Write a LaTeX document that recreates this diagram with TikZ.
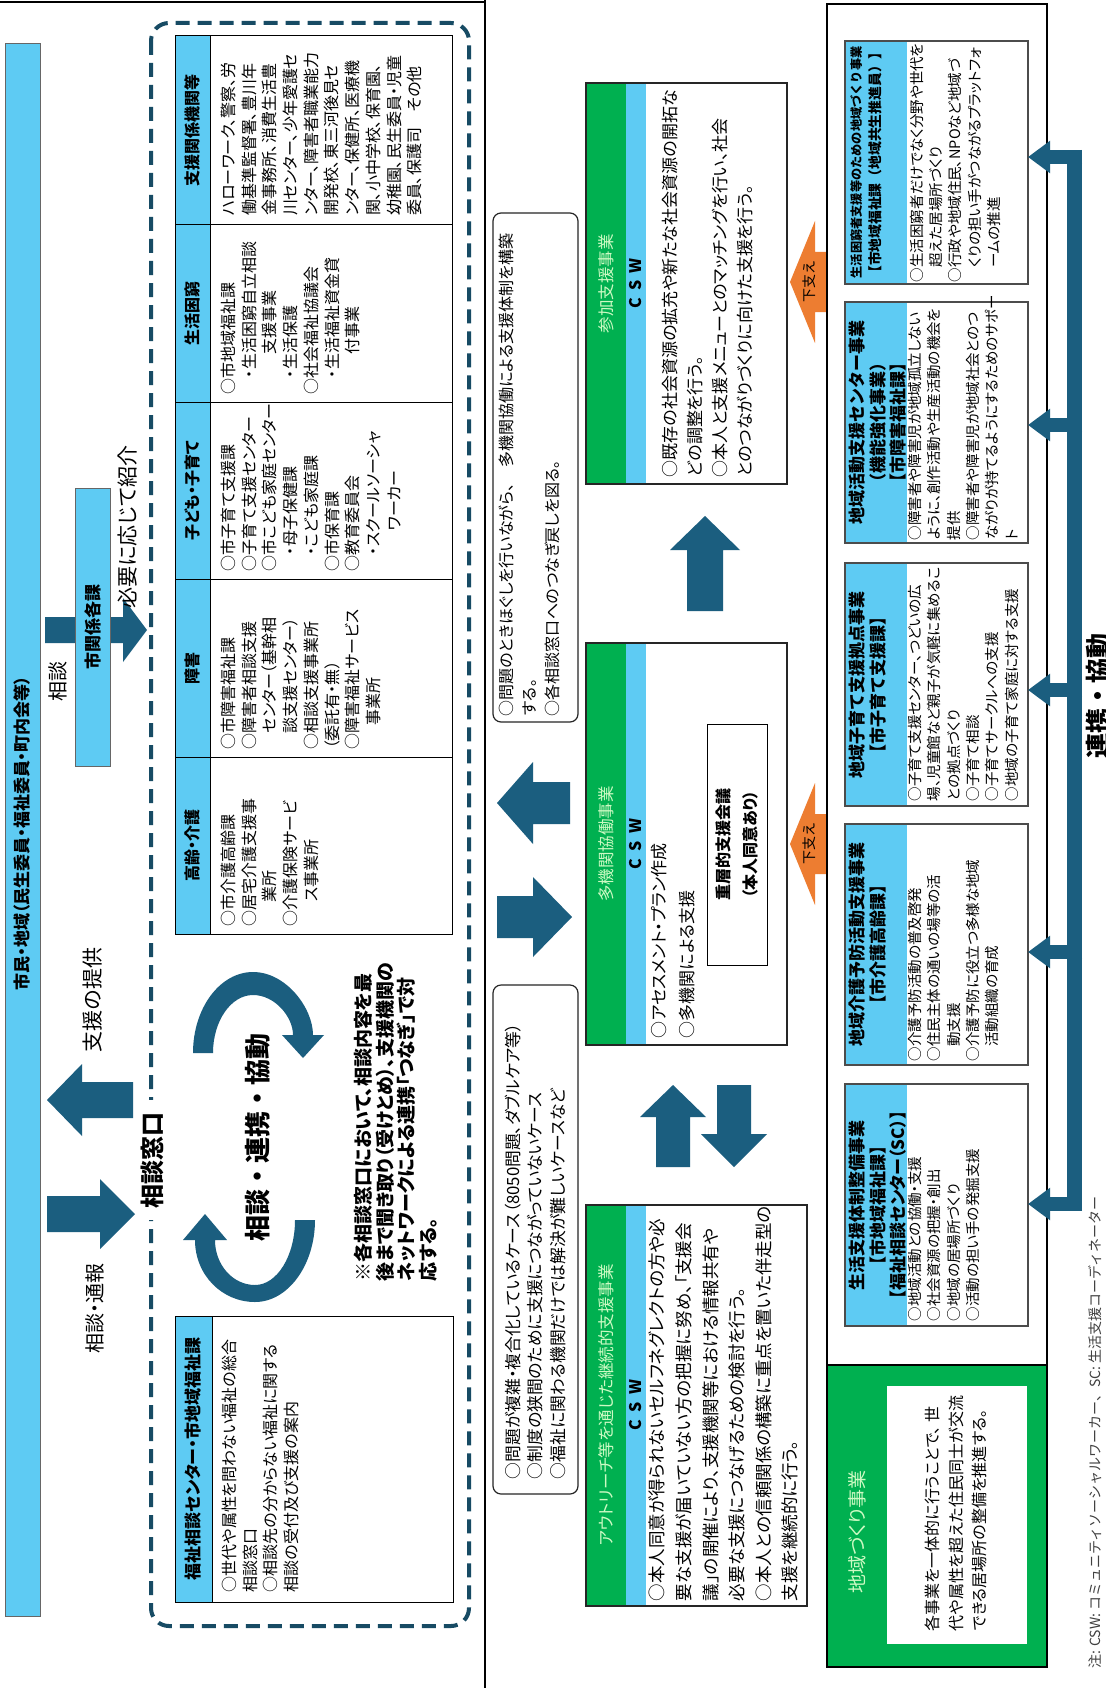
\documentclass[tikz,border=0pt]{standalone}
\usepackage{fontspec}
\setmainfont{Noto Sans CJK JP}[RawFeature=+palt]
\newfontfamily\fw{Noto Sans CJK JP}
\usetikzlibrary{arrows.meta}
\definecolor{lb}{RGB}{94,203,243}
\definecolor{gr}{RGB}{0,176,80}
\definecolor{tl}{RGB}{27,94,127}
\definecolor{dk}{RGB}{23,75,100}
\definecolor{og}{RGB}{237,125,49}
\definecolor{lg}{RGB}{205,250,195}
\newcommand\fsz[2]{\fontsize{#1}{#2}\selectfont}
\newcommand\boxat[6][]{\pgfmathsetmacro\bxw{#5-#3}\pgfmathsetmacro\bxh{#6-#4}%
  \node[inner sep=0pt, outer sep=0pt, anchor=north west, minimum width=\bxw pt, minimum height=\bxh pt, #1] (#2) at (#3,#4) {};}
\begin{document}
\begin{tikzpicture}[x=1pt,y=-1pt,
  vt/.style={rotate=90, inner sep=0pt, outer sep=0pt, align=left, anchor=north west},
  vc/.style={rotate=90, inner sep=0pt, align=center},
  gtitle/.style={vc, font=\fsz{16.5}{20}, text=lg},
  csw/.style={vc, font=\bfseries\fsz{16}{20}},
  rhead/.style={rotate=90, inner sep=0pt, align=center, anchor=north, font=\fw\bfseries\fsz{17}{20.3}},
  rtext/.style={vt, font=\fsz{14.5}{19.4}},
  ttext/.style={vt, font=\fsz{16}{20.7}},
  thead/.style={vc, font=\bfseries\fsz{16}{20}},
  mbox/.style={draw=black!85, line width=1.2pt},
  rbox/.style={draw=black!70, line width=2pt},
  conn/.style={tl, line width=14pt, -{Triangle[length=22pt,width=31pt]}}]
\fill[white] (0,0) rectangle (1105,1688);
\useasboundingbox (0,0) rectangle (1105,1688);

% ---------- left section ----------
\draw[line width=1.8pt] (0,2) -- (485,2);
\draw[line width=1.8pt] (485,0) -- (485,1688);

\boxat[draw=black!60, fill=lb, line width=0.8pt]{bar}{5}{43}{40}{1616}
\node[vc, font=\bfseries\fsz{17}{20}] at (22.5,833) {市民・地域（民生委員・福祉委員・町内会等）};

% arrow to city sections
\fill[tl] (147,630) -- (123,598) -- (123,617) -- (45,617) -- (45,643) -- (123,643) -- (123,662) -- cycle;
\boxat[draw=black!60, fill=lb, line width=0.8pt]{kakuka}{75}{488}{110}{766}
\node[vc, font=\bfseries\fsz{17}{20}] at (kakuka.center) {市関係各課};
\node[vc, font=\fsz{20}{22}] at (58,681) {相談};
\node[vc, font=\fsz{21}{24}] at (128,527) {必要に応じて紹介};

% support / consultation arrows
\fill[tl] (47,1100) -- (82,1064) -- (82,1082) -- (133,1082) -- (133,1118) -- (82,1118) -- (82,1136) -- cycle;
\node[vc, font=\fsz{21}{24}] at (93,1000) {支援の提供};
\fill[tl] (135,1214) -- (100,1179) -- (100,1196) -- (47,1196) -- (47,1232) -- (100,1232) -- (100,1249) -- cycle;
\node[vc, font=\fsz{20}{22}] at (95,1308) {相談・通報};

% dashed frame
\draw[dk, line width=4pt, dash pattern=on 14pt off 8pt, rounded corners=18pt] (151,23) rectangle (469,1626);
\node[vc, fill=white, inner xsep=12pt, inner ysep=1pt, font=\fw\bfseries\fsz{24}{26}] (madoguchi) at (152,1160) {相談窓口};

% table
\fill[lb] (175,36) rectangle (210,934);
\boxat[draw, line width=1pt]{tbl}{175}{36}{452}{934}
\foreach \yy in {225,402,579,757} \draw[line width=1pt] (175,\yy) -- (452,\yy);
\draw[line width=1pt] (210,36) -- (210,934);
\node[thead] at (192.5,130.5) {支援関係機関等};
\node[thead] at (192.5,313.5) {生活困窮};
\node[thead] at (192.5,490.5) {子ども・子育て};
\node[thead] at (192.5,668) {障害};
\node[thead] at (192.5,845.5) {高齢・介護};

\node[ttext] at (221,216) {ハローワーク、警察、労\\働基準監督署、豊川年\\金事務所、消費生活豊\\川センター、少年愛護セ\\ンター、障害者職業能力\\開発校、東三河後見セ\\ンター、保健所、医療機\\関、小中学校、保育園、\\幼稚園、民生委員・児童\\委員、保護司　その他};
\node[ttext] at (221,394) {○市地域福祉課\\\hspace*{1em}・生活困窮自立相談\\\hspace*{2.5em}支援事業\\\hspace*{1em}・生活保護\\○社会福祉協議会\\\hspace*{1em}・生活福祉資金貸\\\hspace*{2.5em}付事業};
\node[ttext] at (221,571) {○市子育て支援課\\○子育て支援センター\\○市こども家庭センター\\\hspace*{1em}・母子保健課\\\hspace*{1em}・こども家庭課\\○市保育課\\○教育委員会\\\hspace*{1em}・スクールソーシャ\\\hspace*{2.5em}ワーカー};
\node[ttext] at (221,749) {○市障害福祉課\\○障害者相談支援\\\hspace*{1em}センター（基幹相\\\hspace*{1em}談支援センター）\\○相談支援事業所\\（委託有・無）\\○障害福祉サービス\\\hspace*{1.5em}事業所};
\node[ttext] at (221,926) {○市介護高齢課\\○居宅介護支援事\\\hspace*{1.5em}業所\\○介護保険サービ\\\hspace*{1.5em}ス事業所};

% circular arrows
\fill[tl] (193,1053) .. controls (193,1008) and (220,972) .. (253,972)
  .. controls (286,972) and (313,1008) .. (313,1035)
  -- (324,1035) -- (303,1058) -- (282,1035) -- (293,1035)
  .. controls (293,1017) and (275,995) .. (253,995)
  .. controls (231,995) and (213,1021) .. (213,1053) -- cycle;
\fill[tl] (315,1220) .. controls (315,1265) and (288,1302) .. (255,1302)
  .. controls (222,1302) and (195,1275) .. (195,1240)
  -- (183,1240) -- (205,1214) -- (227,1240) -- (215,1240)
  .. controls (215,1265) and (233,1285) .. (255,1285)
  .. controls (277,1285) and (295,1256) .. (295,1220) -- cycle;
\node[vc, font=\fw\bfseries\fsz{26}{28}] at (258,1137) {相談・連携・協動};

\node[vt, font=\bfseries\fsz{19}{21.7}] at (354,1281) {※各相談窓口において、相談内容を最\\後まで聞き取り（受けとめ）、支援機関の\\ネットワークによる連携「つなぎ」で対\\応する。};

% welfare consultation center box
\fill[lb] (175,1316) rectangle (212,1602);
\boxat[draw, line width=1pt]{fukushi}{175}{1316}{453}{1602}
\draw[line width=1pt] (212,1316) -- (212,1602);
\node[vc, font=\bfseries\fsz{17}{20}] at (193.5,1459) {福祉相談センター・市地域福祉課};
\node[ttext] at (222,1592) {○世代や属性を問わない福祉の総合\\相談窓口\\○相談先の分からない福祉に関する\\相談の受付及び支援の案内};

% ---------- middle section ----------
\boxat[mbox, rounded corners=8pt]{m1}{493}{213}{578}{722}
\node[vt, font=\fsz{16}{23}] at (499,716) {○問題のときほぐしを行いながら、　多機関協働による支援体制を構築\\する。\\○各相談窓口へのつなぎ戻しを図る。};
\boxat[mbox, rounded corners=8pt]{m2}{493}{985}{578}{1494}
\node[vt, font=\fsz{16.8}{22.5}] at (505,1479) {○問題が複雑・複合化しているケース（8050問題、ダブルケア等）\\○制度の狭間のために支援につながっていないケース\\○福祉に関わる機関だけでは解決が難しいケースなど};

% participation support
\fill[gr] (586,83) rectangle (626,484);
\fill[lb] (626,83) rectangle (646,484);
\boxat[mbox]{sanka}{586}{83}{787}{484}
\node[gtitle] at (606,283.5) {参加支援事業};
\node[csw] at (636,283.5) {C\hspace{0.45em}S\hspace{0.45em}W};
\node[vt, font=\fsz{17}{25}] at (662,477) {○既存の社会資源の拡充や新たな社会資源の開拓な\\どの調整を行う。\\○本人と支援メニューとのマッチングを行い、社会\\とのつながりづくりに向けた支援を行う。};

% multi-agency
\fill[gr] (586,643) rectangle (626,1045);
\fill[lb] (626,643) rectangle (646,1045);
\boxat[mbox]{takikan}{586}{643}{787}{1045}
\node[gtitle] at (606,844) {多機関協働事業};
\node[csw] at (636,844) {C\hspace{0.45em}S\hspace{0.45em}W};
\node[vt, font=\fsz{17}{28}] at (651,1038) {○アセスメント・プラン作成\\○多機関による支援};
\boxat[draw, line width=1pt]{juso}{707}{724}{767}{965}
\node[vc, font=\bfseries\fsz{16}{27}] at (juso.center) {重層的支援会議\\（本人同意あり）};

% outreach
\fill[gr] (586,1205) rectangle (626,1606);
\fill[lb] (626,1205) rectangle (646,1606);
\boxat[mbox]{outreach}{586}{1205}{807}{1606}
\node[gtitle] at (606,1405) {アウトリーチ等を通じた継続的支援事業};
\node[csw] at (636,1405) {C\hspace{0.45em}S\hspace{0.45em}W};
\node[vt, font=\fsz{17.5}{26.6}] at (649,1601) {○本人同意が得られないセルフネグレクトの方や必\\要な支援が届いていない方の把握に努め、「支援会\\議」の開催により、支援機関等における情報共有や\\必要な支援につなげるための検討を行う。\\○本人との信頼関係の構築に重点を置いた伴走型の\\支援を継続的に行う。};

% block arrows in middle
\fill[tl] (497,803) -- (533,762) -- (533,782) -- (570,782) -- (570,824) -- (533,824) -- (533,844) -- cycle;
\fill[tl] (572,917) -- (533,877) -- (533,896) -- (497,896) -- (497,938) -- (533,938) -- (533,957) -- cycle;
\fill[tl] (705,516) -- (740,550) -- (723,550) -- (723,611) -- (687,611) -- (687,550) -- (670,550) -- cycle;
\fill[tl] (673,1085) -- (706,1117) -- (690,1117) -- (690,1167) -- (656,1167) -- (656,1117) -- (640,1117) -- cycle;
\fill[tl] (734,1167) -- (767,1134) -- (751,1134) -- (751,1085) -- (717,1085) -- (717,1134) -- (701,1134) -- cycle;

% orange arrows
\fill[og] (790,282) -- (815,221) -- (815,252) -- (827,252) -- (827,312) -- (815,312) -- (815,343) -- cycle;
\node[vc, font=\fsz{14}{16}] at (809,282) {下支え};
\fill[og] (790,844) -- (815,783) -- (815,814) -- (827,814) -- (827,874) -- (815,874) -- (815,905) -- cycle;
\node[vc, font=\fsz{14}{16}] at (809,844) {下支え};

% ---------- right section ----------
\boxat[draw, line width=1.8pt]{rsec}{827}{4}{1047}{1667}

\fill[lb] (845,41) rectangle (907,284);
\boxat[rbox]{rb1}{845}{41}{1028}{284}
\node[rotate=90, inner sep=0pt, align=center, anchor=north, font=\fw\bfseries\fsz{13.8}{20}] at (850,162.5) {{\fsz{12.2}{20}生活困窮者支援等のための地域づくり事業}\\【市地域福祉課（地域共生推進員）】};
\node[rtext] at (910,282) {○生活困窮者だけでなく分野や世代を\\\hspace*{1em}超えた居場所づくり\\○行政や地域住民、NPOなど地域づ\\\hspace*{1em}くりの担い手がつながるプラットフォ\\\hspace*{1em}ームの推進};

\fill[lb] (845,302) rectangle (907,543);
\boxat[rbox]{rb2}{845}{302}{1028}{543}
\node[rhead] at (849,422.5) {地域活動支援センター事業\\（機能強化事業）\\【市障害福祉課】};
\node[rtext] at (908,540) {○障害者や障害児が地域孤立しない\\ように、創作活動や生産活動の機会を\\提供\\○障害者や障害児が地域社会とのつ\\ながりが持てるようにするためのサポー\\ト};

\fill[lb] (845,563) rectangle (907,806);
\boxat[rbox]{rb3}{845}{563}{1028}{806}
\node[rhead] at (849,684.5) {地域子育て支援拠点事業\\【市子育て支援課】};
\node[rtext] at (908,801) {○子育て支援センター、つどいの広\\場、児童館など親子が気軽に集めるこ\\との拠点づくり\\○子育て相談\\○子育てサークルへの支援\\○地域の子育て家庭に対する支援};

\fill[lb] (845,824) rectangle (907,1065);
\boxat[rbox]{rb4}{845}{824}{1028}{1065}
\node[rhead] at (849,944.5) {地域介護予防活動支援事業\\【市介護高齢課】};
\node[rtext] at (908,1061) {○介護予防活動の普及啓発\\○住民主体の通いの場等の活\\\hspace*{1em}動支援\\○介護予防に役立つ多様な地域\\\hspace*{1em}活動組織の育成};

\fill[lb] (845,1084) rectangle (907,1326);
\boxat[rbox]{rb5}{845}{1084}{1028}{1326}
\node[rhead] at (849,1205) {生活支援体制整備事業\\【市地域福祉課】\\{\rmfamily\bfseries 【福祉相談センター（SC）】}};
\node[rtext] at (908,1321) {○地域活動との協働・支援\\○社会資源の把握・創出\\○地域の居場所づくり\\○活動の担い手の発掘支援};

% connectors
\draw[tl, line width=15pt] (1074.5,150) -- (1074.5,1211);
\coordinate (j1) at (1082,157);
\coordinate (j2) at (1082,425);
\coordinate (j3) at (1082,690);
\coordinate (j4) at (1082,952);
\coordinate (j5) at (1082,1204);
\draw[conn] (j1) -- (j1 -| rb1.east);
\draw[conn] (j2) -- (j2 -| rb2.east);
\draw[conn] (j3) -- (j3 -| rb3.east);
\draw[conn] (j4) -- (j4 -| rb4.east);
\draw[conn] (j5) -- (j5 -| rb5.east);
\node[vc, font=\fw\bfseries\fsz{25}{27}] at (1098,696) {連携・協動};

% community building
\boxat[draw, fill=gr, line width=1.8pt]{gbox}{827}{1365}{1047}{1667}
\boxat[fill=white]{gw}{887}{1386}{1027}{1644}
\node[vc, font=\fsz{19}{22}, text=lg] at (857,1532) {地域づくり事業};
\node[vt, font=\fsz{16}{23.5}] at (925,1631) {各事業を一体的に行うことで、 世\\代や属性を超えた住民同士が交流\\できる居場所の整備を推進する。};

\node[rotate=90, inner sep=0pt, anchor=west, font=\fw\fsz{14}{16}, text=black!75] at (1095,1669) {注: CSW: コミュニティソーシャルワーカー、SC: 生活支援コーディネーター};
\end{tikzpicture}
\end{document}
